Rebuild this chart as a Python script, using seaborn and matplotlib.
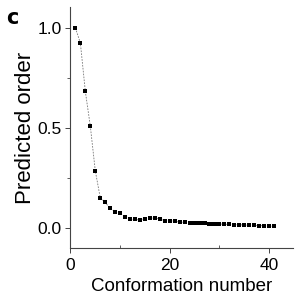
import matplotlib
matplotlib.use("Agg")
import matplotlib.pyplot as plt
import seaborn as sns
import pandas as pd
from matplotlib.ticker import MultipleLocator

# values
conformation = list(range(1, 42))
predicted_order = [
    1.000, 0.925, 0.683, 0.510, 0.287, 0.152, 0.128, 0.098, 0.082, 0.073,
    0.057, 0.043, 0.043, 0.040, 0.047, 0.048, 0.052, 0.045, 0.037, 0.037,
    0.033, 0.030, 0.028, 0.027, 0.026, 0.025, 0.023, 0.022, 0.021, 0.020,
    0.019, 0.018, 0.017, 0.016, 0.015, 0.014, 0.013, 0.012, 0.011, 0.010,
    0.008,
]
x_ticks = [0, 20, 40]
y_ticks = [0.0, 0.5, 1.0]
y_tick_labels = ["0.0", "0.5", "1.0"]

df = pd.DataFrame({"conformation": conformation, "order": predicted_order})

sns.set_style("ticks")
plt.rcParams["font.family"] = ["Liberation Sans", "DejaVu Sans"]
plt.rcParams["text.color"] = "black"
plt.rcParams["axes.labelcolor"] = "black"

fig = plt.figure(figsize=(3.01, 3.01), dpi=100)
ax = fig.add_axes([0.234, 0.176, 0.739, 0.801])

sns.lineplot(data=df, x="conformation", y="order", ax=ax, color="#777777",
             linewidth=0.6, linestyle=(0, (2, 1.5)))
sns.scatterplot(data=df, x="conformation", y="order", ax=ax, marker="s",
                s=9, color="black", edgecolor="none", zorder=3)

ax.set_xlim(0, 44.8)
ax.set_ylim(-0.1, 1.105)
ax.set_xticks(x_ticks)
ax.set_yticks(y_ticks)
ax.set_yticklabels(y_tick_labels)
ax.xaxis.set_minor_locator(MultipleLocator(10))
ax.yaxis.set_minor_locator(MultipleLocator(0.25))

for side in ["top", "right"]:
    ax.spines[side].set_visible(False)
for side in ["left", "bottom"]:
    ax.spines[side].set_linewidth(0.8)
    ax.spines[side].set_color("#444444")

ax.tick_params(axis="both", which="major", direction="out", length=3.5,
               width=0.7, color="#444444", labelsize=12.5, labelcolor="black",
               pad=3)
ax.tick_params(axis="x", which="major", pad=4)
ax.tick_params(axis="both", which="minor", direction="out", length=2.5,
               width=0.6, color="#444444")
ax.tick_params(axis="x", which="minor", direction="in")

ax.set_xlabel("Conformation number", fontsize=13.5, labelpad=3)
ax.set_ylabel("Predicted order", fontsize=16, labelpad=1)

fig.text(0.022, 0.972, "c", fontsize=15, fontweight="bold", va="top",
         family=["DejaVu Sans"])

fig.savefig("out.png", dpi=100)
plt.close(fig)
